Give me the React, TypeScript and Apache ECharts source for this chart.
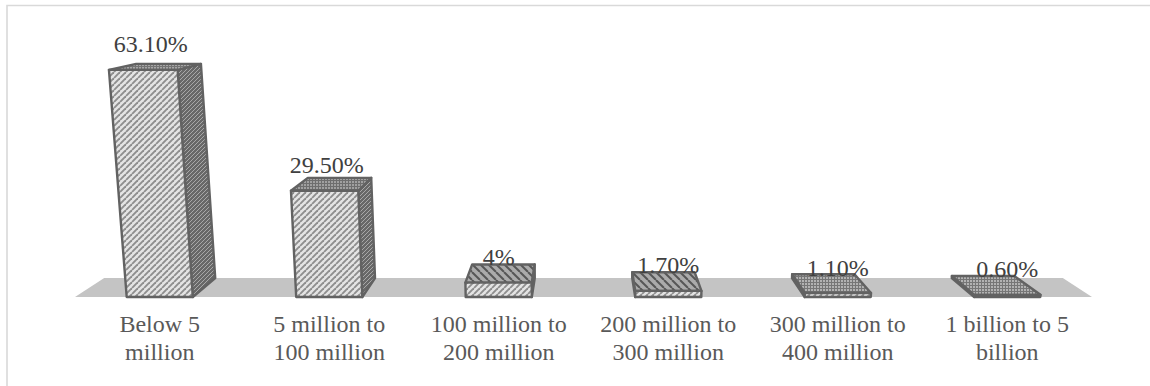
import React, { useEffect, useRef } from "react";
import * as echarts from "echarts";

// Share of enterprises by size of registered capital
const categories = [
  "Below 5\nmillion",
  "5 million to\n100 million",
  "100 million to\n200 million",
  "200 million to\n300 million",
  "300 million to\n400 million",
  "1 billion to 5\nbillion",
];
const shares = [63.1, 29.5, 4, 1.7, 1.1, 0.6];
const shareLabels = ["63.10%", "29.50%", "4%", "1.70%", "1.10%", "0.60%"];

const FONT = '"Liberation Serif", "Times New Roman", serif';
const EDGE = "#626262";
const EDGE_WIDTH = 2.4;
const BAND_FILL = 0.39;

// Perspective used for the pseudo-3D boxes: depth lines meet at one vanishing
// point above the plot, and heights spread slightly away from the centre.
const HORIZON_ABOVE_BASE = 331;
const DEPTH = 0.0574;
const SPREAD = 0.000171;

type Pt = [number, number];

function tile(size: number, bg: string, paint: (c: CanvasRenderingContext2D) => void) {
  const canvas = document.createElement("canvas");
  canvas.width = size;
  canvas.height = size;
  const ctx = canvas.getContext("2d")!;
  ctx.fillStyle = bg;
  ctx.fillRect(0, 0, size, size);
  paint(ctx);
  return { image: canvas, repeat: "repeat" } as any;
}

function diagonal(size: number, bg: string, fg: string, width: number, rising: boolean) {
  return tile(size, bg, (c) => {
    c.strokeStyle = fg;
    c.lineWidth = width;
    for (let i = -1; i <= 1; i++) {
      c.beginPath();
      if (rising) {
        c.moveTo(i * size, size);
        c.lineTo(i * size + size, 0);
      } else {
        c.moveTo(i * size, 0);
        c.lineTo(i * size + size, size);
      }
      c.stroke();
    }
  });
}

function mesh(size: number, bg: string, fg: string) {
  return tile(size, bg, (c) => {
    c.fillStyle = fg;
    c.fillRect(0, 0, size, 1);
    c.fillRect(0, 0, 1, size);
  });
}

export default function App() {
  const ref = useRef<HTMLDivElement>(null);

  useEffect(() => {
    document.body.style.margin = "0";
    const chart = echarts.init(ref.current!, undefined, { renderer: "svg" });

    const frontFill = diagonal(6, "#e4e4e4", "#8e8e8e", 1.9, true);
    const sideFill = diagonal(4, "#686868", "#a8a8a8", 1, true);
    const topFills = [
      mesh(3, "#a6a6a6", "#747474"),
      mesh(3, "#a0a0a0", "#6e6e6e"),
      diagonal(8, "#ababab", "#575757", 2, false),
      diagonal(8, "#ababab", "#575757", 2, false),
      mesh(3, "#b2b2b2", "#767676"),
      mesh(3, "#b2b2b2", "#767676"),
    ];

    const renderBox = (params: any, api: any) => {
      const i = params.dataIndex;
      const value = api.value(1);
      const base = api.coord([i, 0]);
      const top = api.coord([i, value]);
      const grid = params.coordSys;
      const cx = grid.x + grid.width / 2;
      const half = (grid.width / categories.length) * BAND_FILL * 0.5;
      const baseY = base[1];
      const vp: Pt = [cx, baseY - HORIZON_ABOVE_BASE];
      const h = baseY - top[1];

      const front = (x: number, height: number): Pt => [
        cx + (x - cx) * (1 + height * SPREAD),
        baseY - height,
      ];
      const back = (p: Pt): Pt => [
        p[0] + (vp[0] - p[0]) * DEPTH,
        p[1] + (vp[1] - p[1]) * DEPTH,
      ];

      const fbl = front(base[0] - half, 0);
      const fbr = front(base[0] + half, 0);
      const ftl = front(base[0] - half, h);
      const ftr = front(base[0] + half, h);
      const bbl = back(fbl);
      const bbr = back(fbr);
      const btl = back(ftl);
      const btr = back(ftr);

      const face = (points: Pt[], fill: any) => ({
        type: "polygon",
        shape: { points },
        style: { fill, stroke: EDGE, lineWidth: EDGE_WIDTH, lineJoin: "round" },
      });

      // Only the side facing the centre line of the plot is visible
      const side = base[0] < cx
        ? face([ftr, btr, bbr, fbr], sideFill)
        : face([ftl, btl, bbl, fbl], sideFill);

      const topCentreX = (ftl[0] + ftr[0]) / 2;
      return {
        type: "group",
        children: [
          side,
          face([ftl, ftr, btr, btl], topFills[i]),
          face([fbl, fbr, ftr, ftl], frontFill),
          {
            type: "text",
            style: {
              x: base[0] + (topCentreX - base[0]) * 0.55,
              y: ftl[1] - 25.5,
              text: shareLabels[i],
              fill: "#404040",
              font: `24px ${FONT}`,
              align: "center",
              verticalAlign: "middle",
            },
          },
        ],
      };
    };

    const renderFloor = (params: any, api: any) => {
      const grid = params.coordSys;
      const baseY = api.coord([0, 0])[1];
      const cx = grid.x + grid.width / 2;
      const vp: Pt = [cx, baseY - HORIZON_ABOVE_BASE];
      const back = (x: number): Pt => [
        x + (vp[0] - x) * DEPTH,
        baseY + (vp[1] - baseY) * DEPTH,
      ];
      const l = grid.x;
      const r = grid.x + grid.width;
      return {
        type: "polygon",
        shape: { points: [[l, baseY], [r, baseY], back(r), back(l)] },
        style: { fill: "#c4c4c4" },
      };
    };

    chart.setOption({
      animation: false,
      backgroundColor: "#ffffff",
      graphic: [
        {
          type: "polyline",
          shape: { points: [[7, 386], [7, 5.5], [1150, 5.5]] },
          style: { stroke: "#d9d9d9", lineWidth: 1.6, fill: "none" },
          silent: true,
        },
      ],
      grid: { left: 75, right: 58, top: 45, bottom: 89 },
      xAxis: {
        type: "category",
        data: categories,
        axisLine: { show: false },
        axisTick: { show: false },
        axisLabel: {
          interval: 0,
          color: "#595959",
          fontFamily: FONT,
          fontSize: 24,
          lineHeight: 28,
          margin: 13,
        },
      },
      yAxis: { type: "value", min: 0, max: 70, show: false, splitLine: { show: false } },
      series: [
        {
          type: "custom",
          renderItem: renderFloor,
          data: [[0, 0]],
          silent: true,
          z: 1,
        },
        {
          type: "custom",
          renderItem: renderBox,
          data: shares.map((v, i) => [i, v]),
          encode: { x: 0, y: 1 },
          silent: true,
          z: 2,
        },
      ],
    });
    return () => chart.dispose();
  }, []);

  return <div ref={ref} style={{ width: 1150, height: 386 }} />;
}
